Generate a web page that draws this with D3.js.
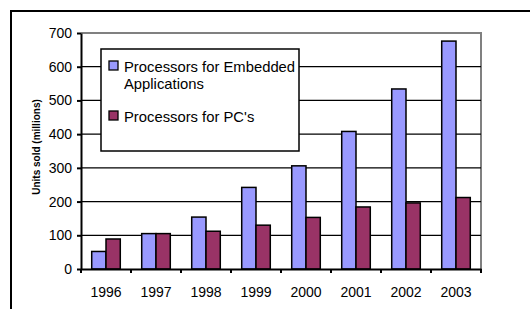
<!DOCTYPE html>
<html><head><meta charset="utf-8">
<script src="https://cdn.jsdelivr.net/npm/d3@7"></script>
<style>html,body{margin:0;padding:0;background:#fff;} svg{display:block;}</style>
</head><body>
<script>
const years = ["1996","1997","1998","1999","2000","2001","2002","2003"];
const embedded = [52, 105, 154, 242, 306, 408, 534, 676];
const pcs = [89, 105, 112, 130, 153, 184, 196, 212];
const seriesNames = ["Processors for Embedded Applications", "Processors for PC's"];
const yTicks = [0,100,200,300,400,500,600,700];
const colors = ["#9999FF", "#993366"];

const W = 530, H = 309;
const svg = d3.select("body").append("svg").attr("width", W).attr("height", H);
const font = "Liberation Sans, Arial, sans-serif";

// chart area border
svg.append("rect").attr("x", 11).attr("y", 11).attr("width", 700).attr("height", 500)
  .attr("fill", "#fff").attr("stroke", "#000").attr("stroke-width", 2);

const x = d3.scaleBand().domain(years).range([81, 481]).padding(0);
const y = d3.scaleLinear().domain([0, 700]).range([269, 33]);
const barW = x.bandwidth() / 3.5;
const off = (x.bandwidth() - 2 * barW) / 2;

// plot area border (gray)
svg.append("path")
  .attr("d", `M${x.range()[0]},${y(700)}H${x.range()[1]}V${y(0)}`)
  .attr("fill", "none").attr("stroke", "#808080").attr("stroke-width", 2);

// gridlines
svg.append("g").selectAll("line").data(yTicks.filter(d => d > 0 && d < 700)).join("line")
  .attr("x1", x.range()[0]).attr("x2", x.range()[1])
  .attr("y1", d => y(d)).attr("y2", d => y(d))
  .attr("stroke", "#000").attr("stroke-width", 1.3);

// bars
const data = years.map((yr, i) => ({yr, vals: [embedded[i], pcs[i]]}));
const g = svg.append("g");
data.forEach(d => {
  d.vals.forEach((v, s) => {
    g.append("rect")
      .attr("x", x(d.yr) + off + s * barW)
      .attr("y", y(v))
      .attr("width", barW)
      .attr("height", y(0) - y(v))
      .attr("fill", colors[s]).attr("stroke", "#000").attr("stroke-width", 1.5);
  });
});

// y axis
const yAxis = d3.axisLeft(y).tickValues(yTicks).tickSize(4).tickPadding(5).tickSizeOuter(0);
const ya = svg.append("g").attr("transform", `translate(${x.range()[0]},0)`).call(yAxis);
ya.select(".domain").attr("stroke", "#000").attr("stroke-width", 2);
ya.selectAll(".tick line").attr("stroke", "#000").attr("stroke-width", 2);
ya.selectAll(".tick text").attr("font-family", font).attr("font-size", 14).attr("fill", "#000");

// x axis
const xAxis = d3.axisBottom(x).tickSize(0).tickPadding(18).tickSizeOuter(0);
const xa = svg.append("g").attr("transform", `translate(0,${y(0)})`).call(xAxis);
xa.select(".domain").attr("stroke", "#000").attr("stroke-width", 2);
xa.selectAll(".tick text").attr("font-family", font).attr("font-size", 14).attr("fill", "#000");
// category boundary ticks
const bounds = years.map(d => x(d)).concat([x.range()[1]]);
xa.append("g").selectAll("line").data(bounds).join("line")
  .attr("x1", d => d).attr("x2", d => d).attr("y1", 0).attr("y2", 4)
  .attr("stroke", "#000").attr("stroke-width", 2);

// y axis title
svg.append("text")
  .attr("transform", `translate(40,${(y(0)+y(700))/2 - 4}) rotate(-90)`)
  .attr("text-anchor", "middle")
  .attr("font-family", font).attr("font-size", 10).attr("font-weight", "bold")
  .text("Units sold (millions)");

// legend
const lg = svg.append("g");
lg.append("rect").attr("x", 101).attr("y", 49).attr("width", 198).attr("height", 102)
  .attr("fill", "#fff").attr("stroke", "#000").attr("stroke-width", 1.5);
const legendLines = [["Processors for Embedded", "Applications"], ["Processors for PC's"]];
const legY = [61, 111];
legendLines.forEach((lines, i) => {
  lg.append("rect").attr("x", 109).attr("y", legY[i]).attr("width", 9).attr("height", 9)
    .attr("fill", colors[i]).attr("stroke", "#000").attr("stroke-width", 1.3);
  const t = lg.append("text").attr("font-family", font).attr("font-size", 14.8).attr("fill", "#000");
  lines.forEach((ln, j) => {
    t.append("tspan").attr("x", 124).attr("y", legY[i] + 10.5 + j * 17.5).text(ln);
  });
});
</script>
</body></html>
